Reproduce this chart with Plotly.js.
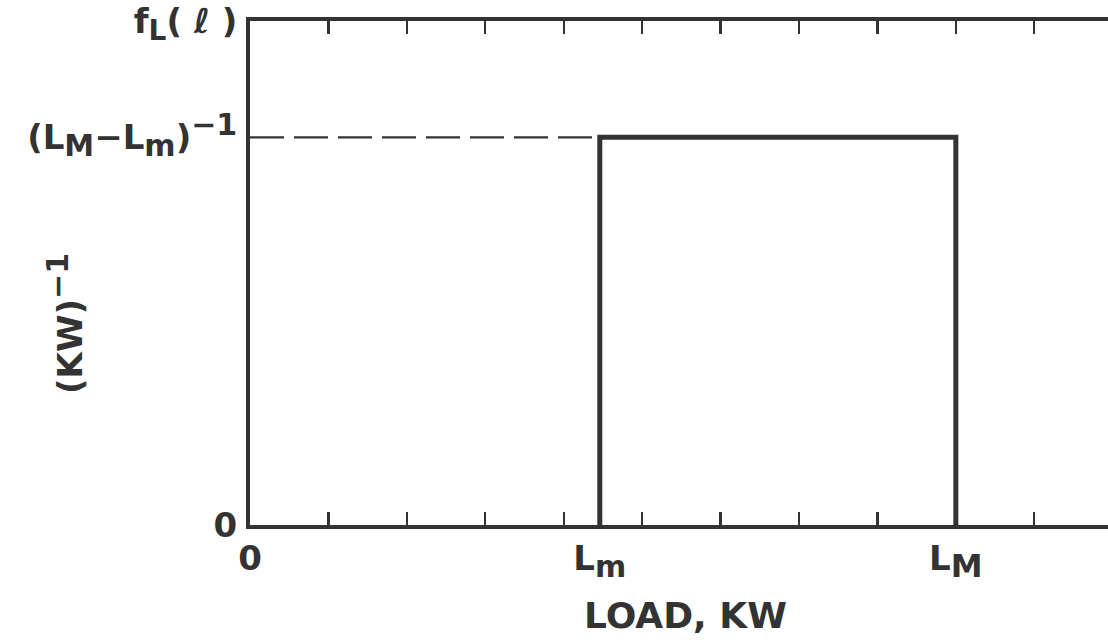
<!DOCTYPE html>
<html>
<head>
<meta charset="utf-8">
<script src="https://cdn.plot.ly/plotly-3.0.1.min.js"></script>
<style>
html,body{margin:0;padding:0;background:#fff;}
#chart{width:1108px;height:644px;}
</style>
</head>
<body>
<div id="chart"></div>
<script>
// ---- data ----
const loadTicks = [0, 1, 2, 3, 4, 5, 6, 7, 8, 9, 10];
const loadMin = 4.46;   // L_m
const loadMax = 9;      // L_M
const density = 1;      // (L_M - L_m)^-1
const yTop = 1.3;       // f_L(l) axis top
const pdfX = [loadMin, loadMin, loadMax, loadMax];
const pdfY = [0, density, density, 0];
const refX = [0, loadMin];
const refY = [density, density];
const xLabelVals = [0, loadMin, loadMax];
const xLabelText = ['0', 'L<sub><span style="font-size:30px">m</span></sub>', 'L<sub><span style="font-size:32px">M</span></sub>'];
const yTickVals = [0, density, yTop];
const yTickText = ['0',
  '(L<sub><span style="font-size:30px">M</span></sub>−L<sub><span style="font-size:30px">m</span></sub>)<sup><span style="font-size:30px">−1</span></sup>',
  'f<sub><span style="font-size:28px">L</span></sub>( ℓ )'];

const ink = '#333333';
const fnt = {family: 'DejaVu Sans', size: 32, color: ink, weight: 'bold'};

const traces = [
  {x: refX, y: refY, type: 'scatter', mode: 'lines', cliponaxis: false,
   line: {color: ink, width: 2.2, dash: '34px,10px'}, hoverinfo: 'skip'},
  {x: pdfX, y: pdfY, type: 'scatter', mode: 'lines', cliponaxis: false,
   line: {color: ink, width: 5}, hoverinfo: 'skip'}
];

const layout = {
  width: 1108, height: 644,
  margin: {l: 250, r: 0, t: 21, b: 119},
  paper_bgcolor: '#fff', plot_bgcolor: '#fff',
  showlegend: false,
  font: fnt,
  xaxis: {
    range: [0, 10.94], tickmode: 'array', tickvals: loadTicks,
    showticklabels: false, ticks: 'inside', ticklen: 13, tickwidth: 2.2, tickcolor: ink,
    showline: true, linewidth: 4, linecolor: ink, mirror: 'ticks',
    showgrid: false, zeroline: false
  },
  xaxis2: {
    overlaying: 'x', anchor: 'y', side: 'bottom', matches: 'x',
    range: [0, 10.94], tickmode: 'array', tickvals: xLabelVals, ticktext: xLabelText,
    ticks: '', showline: false, showgrid: false, zeroline: false,
    tickfont: {family: 'DejaVu Sans', size: 34, color: ink, weight: 'bold'},
    ticklabelstandoff: 10
  },
  yaxis: {
    range: [0, yTop], tickmode: 'array', tickvals: yTickVals, ticktext: yTickText,
    ticks: '', showline: true, linewidth: 4, linecolor: ink,
    showgrid: false, zeroline: false,
    tickfont: {family: 'DejaVu Sans', size: 34, color: ink, weight: 'bold'},
    ticklabelstandoff: 2
  },
  annotations: [
    {text: 'LOAD, KW', xref: 'paper', yref: 'paper', x: 0.508, y: -0.179,
     xanchor: 'center', yanchor: 'middle', showarrow: false,
     font: {family: 'DejaVu Sans', size: 36, color: ink, weight: 'bold'}},
    {text: '(KW)<sup><span style="font-size:30px">−1</span></sup>', xref: 'paper', yref: 'paper',
     x: -0.215, y: 0.40, xanchor: 'center', yanchor: 'middle', textangle: -90, showarrow: false,
     font: {family: 'DejaVu Sans', size: 34, color: ink, weight: 'bold'}}
  ]
};

// invisible point on xaxis2 so the label axis is drawn
traces.push({x: [0], y: [0], xaxis: 'x2', yaxis: 'y', type: 'scatter', mode: 'markers',
  marker: {opacity: 0}, hoverinfo: 'skip'});

Plotly.newPlot('chart', traces, layout, {staticPlot: true, displayModeBar: false});
</script>
</body>
</html>
